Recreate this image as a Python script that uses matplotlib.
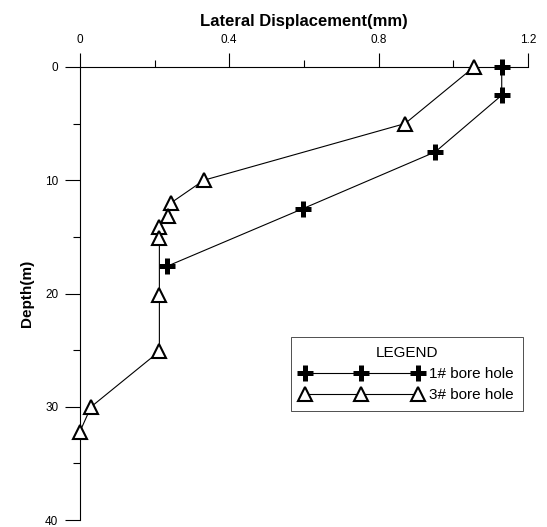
import numpy as np
import matplotlib as mpl
mpl.use('Agg')
import matplotlib.pyplot as plt
from matplotlib.ticker import MultipleLocator

plt.rcParams['font.family'] = ['Liberation Sans', 'DejaVu Sans']

# 1# bore hole
disp1 = [1.13, 1.13, 0.952, 0.598, 0.233]
depth1 = [0, 2.5, 7.5, 12.5, 17.6]

# 3# bore hole
disp3 = [1.056, 0.871, 0.332, 0.244, 0.235, 0.213, 0.213, 0.213, 0.213, 0.03, 0.0]
depth3 = [0, 5.0, 10.0, 12.0, 13.2, 14.1, 15.1, 20.1, 25.1, 30.0, 32.2]

fig = plt.figure(figsize=(5.47, 5.27), dpi=100)
ax = fig.add_axes([0.146, 0.013, 0.819, 0.860])

ax.plot(disp1, depth1, color='k', lw=0.8, marker='+', ms=11,
        mec='k', mew=3.6, label='1# bore hole', clip_on=False, zorder=3)
ax.plot(disp3, depth3, color='k', lw=0.8, marker='^', ms=10,
        mfc='white', mec='k', mew=1.5, label='3# bore hole', clip_on=False, zorder=3)

ax.set_xlim(0, 1.2)
ax.set_ylim(40, 0)

ax.spines['right'].set_visible(False)
ax.spines['bottom'].set_visible(False)
ax.spines['left'].set_linewidth(0.8)
ax.spines['top'].set_linewidth(0.8)

ax.xaxis.tick_top()
ax.xaxis.set_label_position('top')
ax.xaxis.set_minor_locator(MultipleLocator(0.2))
ax.yaxis.set_major_locator(MultipleLocator(10))
ax.yaxis.set_minor_locator(MultipleLocator(5))
ax.set_xticks([0, 0.4, 0.8, 1.2], ['0', '0.4', '0.8', '1.2'])

ax.tick_params(which='major', length=10, width=0.8, labelsize=8.5, direction='out', pad=5)
ax.tick_params(which='minor', length=5, width=0.8, direction='out')
ax.tick_params(axis='y', which='major', length=10.5)

ax.set_xlabel('Lateral Displacement(mm)', fontsize=12, fontweight='bold', labelpad=6)
ax.set_ylabel('Depth(m)', fontsize=11, fontweight='bold', labelpad=8)

leg = ax.legend(loc='upper left', bbox_to_anchor=(0.471, 0.404), borderaxespad=0,
                numpoints=3, title='LEGEND', fontsize=11, title_fontsize=11,
                frameon=True, fancybox=False, edgecolor='k', handlelength=8.0,
                handletextpad=0.45, borderpad=0.6, labelspacing=0.45)
leg.get_frame().set_linewidth(0.6)

fig.savefig('out.png', dpi=100)
